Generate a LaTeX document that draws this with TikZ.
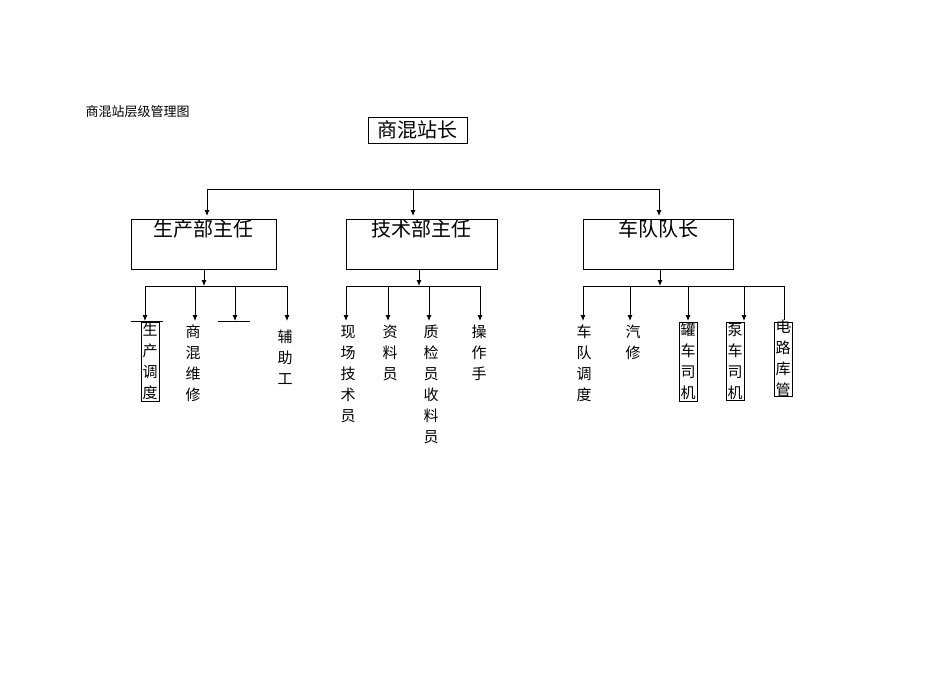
\documentclass[tikz,border=0pt]{standalone}
\usepackage{fontspec}
\setmainfont{Noto Sans CJK SC}
\usetikzlibrary{arrows.meta}
\begin{document}
\begin{tikzpicture}[x=1pt,y=-1pt,
  arr/.style={-{Latex[length=6pt,width=5pt]},line width=0.9pt},
  ln/.style={line width=0.9pt},
  box/.style={draw,line width=0.6pt,inner sep=0},
  vt/.style={font=\fontsize{15}{21}\selectfont,align=center,anchor=north,inner sep=1pt}]
\useasboundingbox (0,0) rectangle (950,672);
\node[anchor=west,font=\fontsize{13}{13}\selectfont] (title) at (82,112) {商混站层级管理图};
\node[box,minimum width=99pt,minimum height=26pt,font=\fontsize{20}{20}\selectfont] (top) at (417.5,130) {商混站长};
\coordinate (hl) at (207,189); \coordinate (hm) at (413,189); \coordinate (hr) at (659,189);
\draw[ln] (hl) -- (hr);
\coordinate (al) at (207,216); \coordinate (am) at (413,216); \coordinate (ar) at (659,216);
\draw[arr] (hl)--(al); \draw[arr] (hm)--(am); \draw[arr] (hr)--(ar);
\node[box,minimum width=145pt,minimum height=50pt] (b1) at (203.5,244) {};
\node[box,minimum width=151pt,minimum height=50pt] (b2) at (421.5,244) {};
\node[box,minimum width=150pt,minimum height=50pt] (b3) at (658,244) {};
\draw[line width=1.6pt] (b2.south west)--(b2.south east);
\foreach \b/\t in {b1/生产部主任,b2/技术部主任,b3/车队队长}
  \node[font=\fontsize{20}{20}\selectfont] at ([yshift=-10pt]\b.north) {\t};
% left group
\coordinate (l0) at (204,286);
\draw[arr] (b1.south -| l0) -- (l0);
\draw[ln] (145,286) -- (287,286);
\foreach \x in {145,195,235,287} \draw[arr] (\x,286) -- (\x,321);
\draw[ln] (131,321)--(163,321); \draw[ln] (218,321)--(250,321);
\node[vt,draw,line width=0.5pt,inner sep=1pt,minimum width=18pt] (c1) at (150,322) {生\\产\\调\\度};
\node[vt] (c2) at (193,324) {商\\混\\维\\修};
\node[vt] (c3) at (285,329) {辅\\助\\工};
% middle group
\coordinate (m0) at (419,286);
\draw[arr] (b2.south -| m0) -- (m0);
\draw[ln] (346,286) -- (480,286);
\foreach \x in {346,388,429,480} \draw[arr] (\x,286) -- (\x,321);
\node[vt] (d1) at (348,324) {现\\场\\技\\术\\员};
\node[vt] (d2) at (390,324) {资\\料\\员};
\node[vt] (d3) at (431,324) {质\\检\\员\\收\\料\\员};
\node[vt] (d4) at (479,324) {操\\作\\手};
% right group
\coordinate (r0) at (660,286);
\draw[arr] (b3.south -| r0) -- (r0);
\draw[ln] (583,286) -- (784,286);
\foreach \x in {583,630,688,744} \draw[arr] (\x,286) -- (\x,321);
\draw[ln] (784,286) -- (784,320);
\node[vt] (e1) at (584,324) {车\\队\\调\\度};
\node[vt] (e2) at (633,324) {汽\\修};
\node[vt,draw,line width=0.5pt,minimum width=18pt] (e3) at (688,322) {罐\\车\\司\\机};
\node[vt,draw,line width=0.5pt,minimum width=18pt] (e4) at (735,322) {泵\\车\\司\\机};
\node[vt,draw,line width=0.5pt,minimum width=18pt,text depth=0pt] (e5) at (783,322) {\\[-12pt]电\\路\\库\\管};
\fill (790,327) circle (0.8pt);
\end{tikzpicture}
\end{document}
